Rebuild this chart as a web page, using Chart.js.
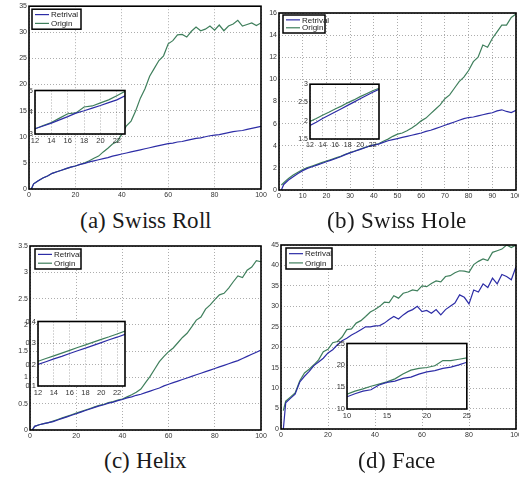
<!DOCTYPE html>
<html>
<head>
<meta charset="utf-8">
<script src="https://cdn.jsdelivr.net/npm/chart.js@4.4.1/dist/chart.umd.min.js"></script>
<style>
@font-face {
  font-family: 'CapSerif';
  src: local('Liberation Serif'), local('LiberationSerif-Regular'), local('DejaVu Serif'), local('DejaVuSerif'),
       local('Times New Roman'), local('Noto Serif');
}
html, body { margin: 0; padding: 0; background: #fff; overflow: hidden; }
#wrap { position: relative; width: 519px; height: 478px; overflow: hidden; background: #fff; }
canvas { position: absolute; }
.cap {
  position: absolute; width: 260px; text-align: center;
  font-family: 'CapSerif', "Liberation Serif", "DejaVu Serif", "Times New Roman", serif;
  font-size: 23px; line-height: 23px; color: #1a1a1a; white-space: nowrap;
}
</style>
</head>
<body>
<div id="wrap">
  <canvas id="ma" width="272" height="200" style="left:0;top:0"></canvas>
  <canvas id="mb" width="270" height="201" style="left:262px;top:0"></canvas>
  <canvas id="mc" width="272" height="205" style="left:0;top:236px"></canvas>
  <canvas id="md" width="270" height="204" style="left:262px;top:236px"></canvas>
  <canvas id="ia" width="104" height="62" style="left:25px;top:84px"></canvas>
  <canvas id="ib" width="89" height="73" style="left:294px;top:78px"></canvas>
  <canvas id="ic" width="107" height="83" style="left:22px;top:315px"></canvas>
  <canvas id="id" width="140" height="84" style="left:333px;top:337px"></canvas>
  <div class="cap" style="left:15px;top:209px">(a) Swiss Roll</div>
  <div class="cap" style="left:266px;top:209px">(b) Swiss Hole</div>
  <div class="cap" style="left:15px;top:449px">(c) Helix</div>
  <div class="cap" style="left:266px;top:449px">(d) Face</div>
</div>
<script>
// x positions of the main curves
const xMain = [1, 2, 4, 6, 8, 10, 12, 14, 16, 18, 20, 22, 24, 26, 28, 30, 32, 34, 36, 38, 40,
  42, 44, 46, 48, 50, 52, 54, 56, 58, 60, 62, 64, 66, 68, 70, 72, 74, 76, 78, 80,
  82, 84, 86, 88, 90, 92, 94, 96, 98, 100];

// (a) Swiss Roll
const retA = [0.0, 1.0, 1.6, 2.1, 2.5, 3.0, 3.3, 3.6, 3.9, 4.2, 4.4, 4.7, 4.9, 5.2, 5.4, 5.6, 5.8, 6.0, 6.3, 6.5, 6.7,
  6.9, 7.1, 7.3, 7.5, 7.7, 7.9, 8.1, 8.3, 8.5, 8.7, 8.8, 9.0, 9.1, 9.3, 9.5, 9.7, 9.8, 10.0, 10.2, 10.3,
  10.4, 10.6, 10.8, 11.0, 11.1, 11.2, 11.4, 11.6, 11.8, 12.0];
const oriA = [0.0, 1.0, 1.6, 2.1, 2.5, 3.0, 3.3, 3.6, 3.9, 4.2, 4.4, 4.7, 5.0, 5.4, 5.9, 6.3, 7.1, 7.8, 8.6, 9.1, 10.5,
  12.1, 13.0, 15.0, 17.4, 19.2, 21.6, 23.1, 24.6, 25.5, 27.8, 28.4, 29.5, 29.6, 29.1, 30.2, 31.0, 30.3, 30.6, 31.2, 30.4,
  31.4, 30.3, 31.2, 31.6, 32.3, 31.2, 31.5, 31.8, 31.3, 31.8];

// (b) Swiss Hole
const retB = [0.0, 0.5, 0.9, 1.2, 1.5, 1.75, 1.95, 2.1, 2.25, 2.4, 2.55, 2.7, 2.85, 3.0, 3.2, 3.35, 3.5, 3.65, 3.8, 3.95, 4.05,
  4.15, 4.3, 4.45, 4.55, 4.65, 4.75, 4.85, 4.95, 5.05, 5.15, 5.3, 5.4, 5.55, 5.7, 5.85, 6.0, 6.15, 6.3, 6.45, 6.55,
  6.6, 6.7, 6.8, 6.9, 6.98, 7.15, 7.25, 7.1, 7.0, 7.2];
const oriB = [0.45, 0.65, 1.05, 1.35, 1.6, 1.85, 2.02, 2.17, 2.32, 2.47, 2.62, 2.76, 2.9, 3.05, 3.23, 3.38, 3.53, 3.68, 3.83, 3.97, 4.08,
  4.18, 4.4, 4.6, 4.85, 5.05, 5.15, 5.35, 5.6, 5.9, 6.25, 6.5, 6.9, 7.3, 7.7, 8.25, 8.6, 9.2, 9.8, 10.2, 10.8,
  11.6, 12.0, 13.1, 12.9, 13.7, 14.3, 14.9, 14.9, 15.6, 15.9];

// (c) Helix
const retC = [0.0, 0.07, 0.1, 0.12, 0.14, 0.16, 0.19, 0.22, 0.25, 0.28, 0.31, 0.34, 0.37, 0.4, 0.43, 0.46, 0.48, 0.51, 0.53, 0.56, 0.58,
  0.61, 0.63, 0.66, 0.68, 0.71, 0.74, 0.77, 0.8, 0.84, 0.87, 0.9, 0.93, 0.96, 0.99, 1.02, 1.05, 1.08, 1.11, 1.14, 1.17,
  1.2, 1.23, 1.26, 1.29, 1.32, 1.36, 1.4, 1.44, 1.48, 1.52];
const oriC = [0.0, 0.07, 0.1, 0.12, 0.14, 0.17, 0.2, 0.23, 0.26, 0.29, 0.32, 0.35, 0.38, 0.41, 0.44, 0.47, 0.49, 0.52, 0.54, 0.57, 0.59,
  0.63, 0.67, 0.72, 0.78, 0.9, 1.02, 1.16, 1.3, 1.4, 1.49, 1.56, 1.66, 1.76, 1.84, 1.96, 2.09, 2.15, 2.3, 2.38, 2.48,
  2.57, 2.6, 2.7, 2.82, 2.93, 2.9, 3.04, 3.1, 3.22, 3.2];

// (d) Face
const retD = [0.0, 6.4, 7.5, 8.5, 11.5, 12.9, 14.1, 15.5, 16.4, 17.3, 18.6, 19.4, 20.6, 21.6, 22.2, 23.0, 23.6, 24.3, 25.0, 25.0, 25.2,
  25.3, 25.9, 26.8, 27.5, 26.9, 27.9, 28.7, 29.2, 30.0, 28.7, 29.0, 28.3, 29.2, 27.9, 29.2, 30.0, 30.8, 32.8, 32.2, 30.6,
  34.0, 33.5, 35.5, 34.6, 36.9, 35.5, 37.8, 37.3, 36.5, 39.7];
const oriD = [4.5, 6.8, 7.8, 8.8, 11.8, 13.7, 14.6, 15.7, 16.9, 18.9, 19.5, 21.1, 21.4, 22.5, 24.3, 24.5, 25.9, 26.5, 27.5, 28.6, 29.2,
  30.0, 31.0, 30.9, 32.6, 32.0, 33.2, 33.5, 34.0, 33.8, 35.0, 34.8, 35.6, 36.2, 36.0, 37.3, 37.5, 38.2, 38.7, 38.6, 38.3,
  40.2, 41.0, 41.6, 41.2, 43.2, 43.6, 44.0, 45.0, 44.4, 45.0];

// zoomed insets
const xInset = [12, 13, 14, 15, 16, 17, 18, 19, 20, 21, 22, 23];
const insRetA = [3.24, 3.37, 3.5, 3.65, 3.8, 3.96, 4.07, 4.19, 4.31, 4.44, 4.57, 4.76];
const insOriA = [3.24, 3.39, 3.53, 3.73, 3.93, 3.97, 4.24, 4.29, 4.43, 4.57, 4.76, 4.96];
const insRetB = [1.87, 1.96, 2.06, 2.15, 2.24, 2.33, 2.42, 2.51, 2.6, 2.69, 2.78, 2.86];
const insOriB = [1.98, 2.06, 2.15, 2.23, 2.32, 2.4, 2.49, 2.57, 2.66, 2.74, 2.82, 2.89];
const insRetC = [0.2, 0.213, 0.226, 0.238, 0.251, 0.264, 0.276, 0.289, 0.302, 0.315, 0.327, 0.34];
const insOriC = [0.215, 0.228, 0.24, 0.253, 0.266, 0.279, 0.291, 0.304, 0.317, 0.329, 0.342, 0.355];
const xInsetD = [10, 11, 12, 13, 14, 15, 16, 17, 18, 19, 20, 21, 22, 23, 24, 25];
const insRetD = [12.8, 13.5, 14.1, 14.4, 15.5, 16.1, 16.4, 17.0, 17.3, 18.0, 18.5, 18.8, 19.3, 19.6, 20.1, 20.7];
const insOriD = [13.4, 14.1, 14.6, 15.2, 15.7, 16.2, 16.9, 18.0, 18.9, 19.3, 19.5, 19.9, 21.1, 21.1, 21.4, 21.7];

// tick labels
const ticksX100by20 = [0, 20, 40, 60, 80, 100];
const ticksX100by10 = [0, 10, 20, 30, 40, 50, 60, 70, 80, 90, 100];
const ticksYA = [0, 5, 10, 15, 20, 25, 30, 35];
const ticksYB = [0, 2, 4, 6, 8, 10, 12, 14, 16];
const ticksYC = [0, 0.5, 1, 1.5, 2, 2.5, 3, 3.5];
const ticksYD = [0, 5, 10, 15, 20, 25, 30, 35, 40, 45];
const ticksXInset = [12, 14, 16, 18, 20, 22];
const ticksYInsetA = [3, 4, 5];
const ticksYInsetB = [1.5, 2, 2.5, 3];
const ticksYInsetC = [0.1, 0.2, 0.3, 0.4];
const ticksInsetD = [10, 15, 20, 25];

const BLUE = '#2d2da6';
const GREEN = '#3f7f5c';

// frame box, white fill for insets, and the little in-plot legend
const framePlugin = {
  id: 'frame',
  beforeDraw(chart, args, opts) {
    if (!opts.fill) return;
    const a = chart.chartArea, ctx = chart.ctx;
    ctx.save();
    ctx.fillStyle = '#fff';
    ctx.fillRect(a.left, a.top, a.width, a.height);
    ctx.restore();
  },
  afterDatasetsDraw(chart, args, opts) {
    const a = chart.chartArea, ctx = chart.ctx;
    ctx.save();
    ctx.strokeStyle = '#000';
    ctx.lineWidth = 1.6;
    ctx.strokeRect(a.left, a.top, a.width, a.height);
    const lg = opts.legend;
    if (lg) {
      const x = a.left + lg.dx, y = a.top + lg.dy;
      ctx.fillStyle = '#fff';
      ctx.fillRect(x, y, lg.w, lg.h);
      ctx.lineWidth = 1.5;
      ctx.strokeRect(x, y, lg.w, lg.h);
      const rows = [['Retrival', BLUE], ['Origin', GREEN]];
      ctx.font = "8px 'Liberation Sans', Arial, sans-serif";
      ctx.textBaseline = 'middle';
      rows.forEach((r, i) => {
        const ry = y + lg.h * (i === 0 ? 0.27 : 0.71);
        ctx.strokeStyle = r[1];
        ctx.lineWidth = 1.2;
        ctx.beginPath();
        ctx.moveTo(x + 3, ry);
        ctx.lineTo(x + 17, ry);
        ctx.stroke();
        ctx.fillStyle = '#222';
        ctx.fillText(r[0], x + 19, ry + 0.5);
      });
    }
    ctx.restore();
  }
};

function pts(xs, ys) {
  return xs.map((x, i) => ({ x: x, y: ys[i] }));
}

function axis(min, max, ticks, size, fontSize, pos) {
  return {
    type: 'linear',
    position: pos,
    min: min,
    max: max,
    afterBuildTicks: s => { s.ticks = ticks.map(v => ({ value: v })); },
    afterFit: s => {
      if (pos === 'left') s.width = size; else s.height = size;
    },
    grid: { color: 'rgba(0,0,0,0.32)', lineWidth: 1, drawTicks: false },
    border: { display: false, dash: [1, 2] },
    ticks: {
      color: '#333',
      padding: 2,
      autoSkip: false,
      maxRotation: 0,
      font: { family: "'Liberation Sans', Arial, sans-serif", size: fontSize },
      callback: v => String(v)
    }
  };
}

function panel(id, xs, ret, ori, o) {
  new Chart(document.getElementById(id), {
    type: 'line',
    data: {
      datasets: [
        { label: 'Retrival', data: pts(xs, ret), borderColor: BLUE, borderWidth: 1.2, pointRadius: 0, tension: 0 },
        { label: 'Origin', data: pts(xs, ori), borderColor: GREEN, borderWidth: 1.2, pointRadius: 0, tension: 0 }
      ]
    },
    options: {
      responsive: false,
      animation: false,
      devicePixelRatio: 1,
      layout: { padding: o.pad },
      plugins: {
        legend: { display: false },
        tooltip: { enabled: false },
        frame: { fill: o.fill, legend: o.legend }
      },
      scales: {
        x: axis(o.x[0], o.x[1], o.xt, o.xh, o.fs, 'bottom'),
        y: axis(o.y[0], o.y[1], o.yt, o.yw, o.fs, 'left')
      }
    },
    plugins: [framePlugin]
  });
}

panel('ma', xMain, retA, oriA, { x: [0, 100], y: [0, 35], xt: ticksX100by20, yt: ticksYA, yw: 29, xh: 11, fs: 7,
  pad: { top: 5, right: 11, left: 0, bottom: 0 }, legend: { dx: 3, dy: 3, w: 49, h: 20 } });
panel('mb', xMain, retB, oriB, { x: [0, 100], y: [0, 16], xt: ticksX100by10, yt: ticksYB, yw: 17, xh: 11, fs: 7,
  pad: { top: 13, right: 16, left: 0, bottom: 0 }, legend: { dx: 4, dy: 2, w: 42, h: 18 } });
panel('mc', xMain, retC, oriC, { x: [0, 100], y: [0, 3.5], xt: ticksX100by20, yt: ticksYC, yw: 30, xh: 11, fs: 7,
  pad: { top: 10, right: 11, left: 0, bottom: 0 }, legend: { dx: 5, dy: 3, w: 46, h: 20 } });
panel('md', xMain, retD, oriD, { x: [0, 100], y: [0, 45], xt: ticksX100by20, yt: ticksYD, yw: 19, xh: 11, fs: 7,
  pad: { top: 9, right: 16, left: 0, bottom: 0 }, legend: { dx: 5, dy: 3, w: 46, h: 21 } });

panel('ia', xInset, insRetA, insOriA, { x: [12, 23], y: [3, 5], xt: ticksXInset, yt: ticksYInsetA, yw: 10, xh: 12, fs: 7.5,
  pad: { top: 4, right: 4, left: 0, bottom: 0 }, fill: true });
panel('ib', xInset, insRetB, insOriB, { x: [12, 23], y: [1.5, 3], xt: ticksXInset, yt: ticksYInsetB, yw: 16, xh: 12, fs: 7,
  pad: { top: 4, right: 4, left: 0, bottom: 0 }, fill: true });
panel('ic', xInset, insRetC, insOriC, { x: [12, 23], y: [0.1, 0.4], xt: ticksXInset, yt: ticksYInsetC, yw: 16, xh: 12, fs: 7.5,
  pad: { top: 4, right: 4, left: 0, bottom: 0 }, fill: true });
panel('id', xInsetD, insRetD, insOriD, { x: [10, 25], y: [10, 25], xt: ticksInsetD, yt: ticksInsetD, yw: 14, xh: 12, fs: 7.5,
  pad: { top: 4, right: 6, left: 0, bottom: 0 }, fill: true });
</script>
</body>
</html>
